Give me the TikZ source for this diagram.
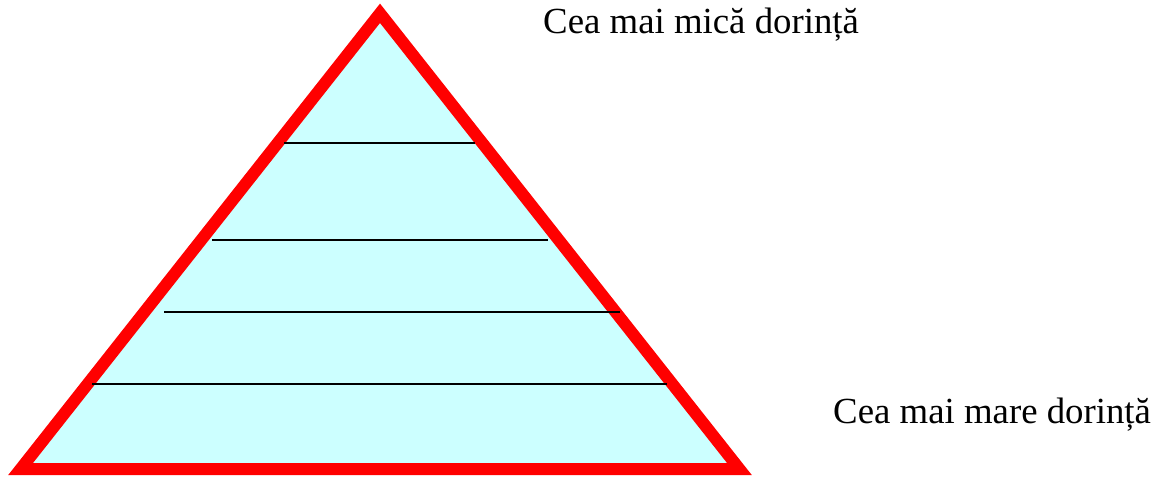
\documentclass[tikz,border=0pt]{standalone}
\usepackage{fontspec}
\setmainfont{Liberation Serif}
\definecolor{pyrfill}{RGB}{204,255,255}
\definecolor{pyrred}{RGB}{255,0,0}
\tikzset{
  pyramid/.style={draw=pyrred, fill=pyrfill, line width=12pt, line join=miter},
  level/.style={draw=black, line width=2pt},
  label/.style={anchor=base west, inner sep=0pt, font=\fontsize{36.8}{40}\selectfont}
}
\begin{document}
\begin{tikzpicture}[x=1pt,y=-1pt]
\useasboundingbox (0,0) rectangle (1161,477);
\coordinate (A) at (380,13.3);
\coordinate (L) at (20.6,469);
\coordinate (R) at (739.4,469);
\draw[pyramid] (A) -- (L) -- (R) -- cycle;
\draw[level] (284,143) -- (475,143);
\draw[level] (212,240) -- (548,240);
\draw[level] (164,311.5) -- (620,311.5);
\draw[level] (92,383.5) -- (667,383.5);
\node[label] (top) at (543,33) {Cea mai mică dorință};
\node[label] (bottom) at (833,423) {Cea mai mare dorință};
\end{tikzpicture}
\end{document}
